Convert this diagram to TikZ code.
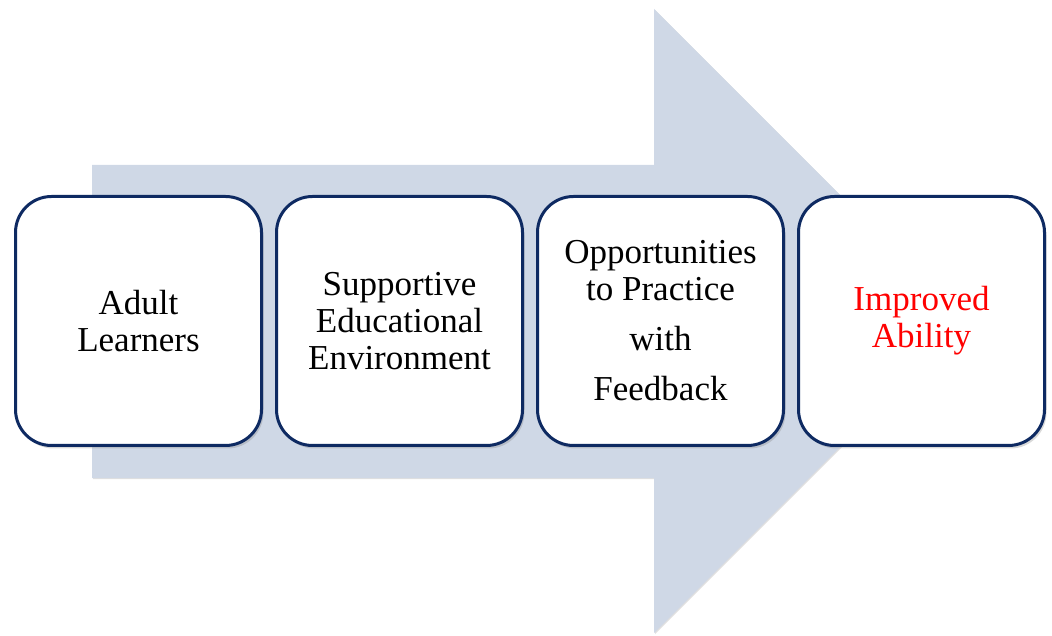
\documentclass[tikz,border=0pt]{standalone}
\usepackage{fontspec}
\setmainfont{Liberation Serif}
\usetikzlibrary{positioning,shadows}
\definecolor{navy}{HTML}{0E2A62}
\definecolor{steel}{HTML}{CFD8E6}
\definecolor{goalred}{HTML}{FF0000}
\tikzset{
  flowarrow/.style={fill=steel,
                    drop shadow={shadow xshift=1pt, shadow yshift=-1pt, opacity=0.25}},
  stagebox/.style={draw=navy, line width=3pt, fill=white, rounded corners=36pt,
                   minimum width=246pt, minimum height=249pt, inner sep=0pt,
                   align=center, text=black, font=\fontsize{35}{37}\selectfont,
                   drop shadow={shadow xshift=2pt, shadow yshift=-3pt, opacity=0.3}},
  goalbox/.style={stagebox, text=goalred}}

\begin{document}
\begin{tikzpicture}[x=1pt, y=1pt, node distance=12pt]
  \useasboundingbox (0,0) rectangle (1052,635);
  % big background arrow
  \path[flowarrow] (92,470) -- (654,470) -- (654,626) -- (966,314)
    -- (654,2) -- (654,157) -- (92,157) -- cycle;
  % the four steps
  \node[stagebox] (learners) at (138.5,314) {Adult\\Learners};
  \node[stagebox, right=of learners] (environment) {Supportive\\Educational\\Environment};
  \node[stagebox, right=of environment] (practice)
    {Opportunities\\to Practice\\[13pt]with\\[13pt]Feedback};
  \node[goalbox, right=of practice] (ability) {Improved\\Ability};
\end{tikzpicture}
\end{document}
